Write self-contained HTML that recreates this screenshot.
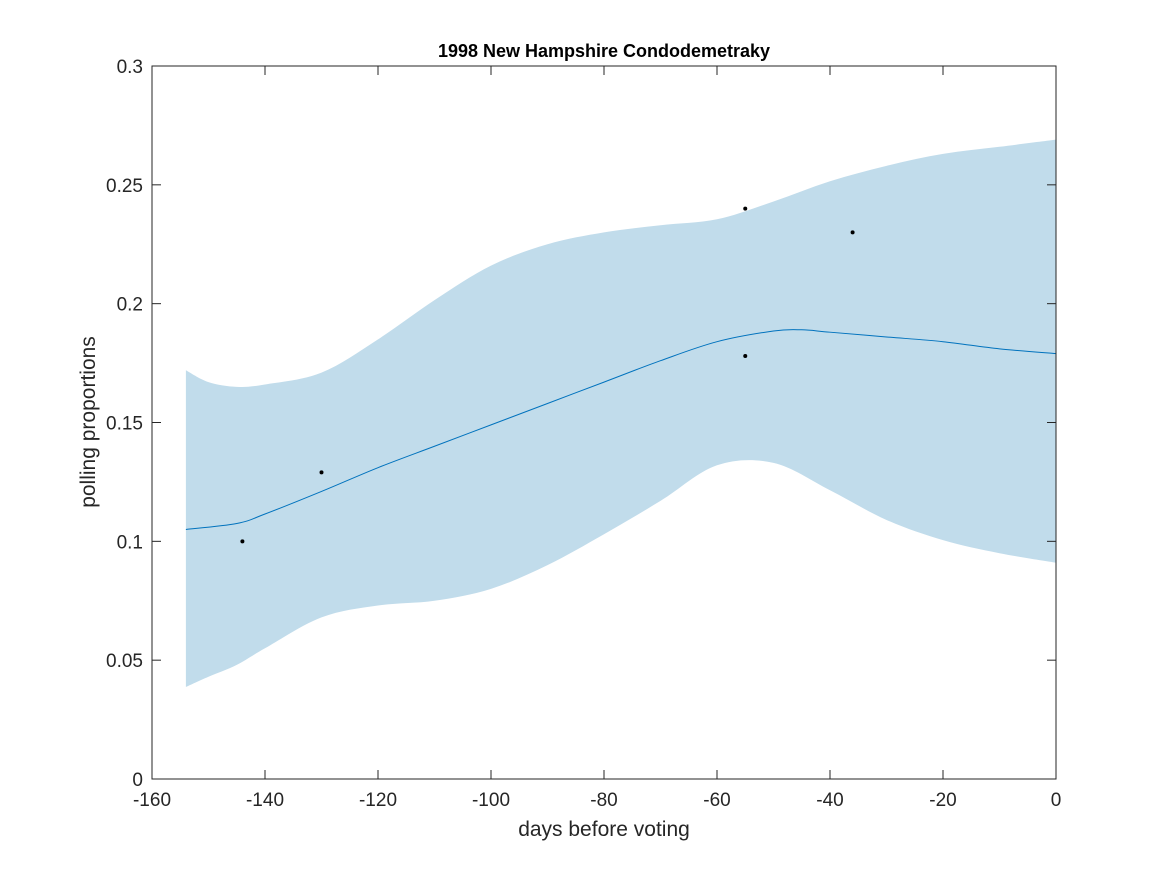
<!DOCTYPE html>
<html><head><meta charset="utf-8"><style>
body{margin:0;background:#fff;}
svg text{font-family:"Liberation Sans",sans-serif;fill:#262626;}
</style></head><body>
<svg id="chart" width="1167" height="875" xmlns="http://www.w3.org/2000/svg">
<text x="604" y="57" text-anchor="middle" font-size="18" font-weight="bold" style="fill:#000">1998 New Hampshire Condodemetraky</text>
<text x="604" y="836" text-anchor="middle" font-size="21">days before voting</text>
<text transform="translate(95,422) rotate(-90)" text-anchor="middle" font-size="21">polling proportions</text>
<g id="plot"></g>
</svg>
<script>
const bandX=[-154,-150,-145,-140,-130,-120,-110,-100,-90,-80,-70,-60,-50,-40,-30,-20,-10,0];
const upper=[0.172,0.167,0.165,0.166,0.171,0.185,0.2015,0.216,0.225,0.230,0.233,0.2355,0.243,0.2515,0.258,0.263,0.266,0.269];
const lower=[0.0387,0.043,0.048,0.055,0.068,0.073,0.075,0.080,0.090,0.103,0.117,0.132,0.133,0.1215,0.109,0.1005,0.095,0.091];
const meanX=[-154,-145,-140,-130,-120,-110,-100,-90,-80,-70,-60,-50,-45,-40,-30,-20,-10,0];
const meanY=[0.105,0.1075,0.1115,0.121,0.131,0.140,0.149,0.158,0.167,0.176,0.184,0.1885,0.189,0.188,0.186,0.184,0.181,0.179];
const pollX=[-144,-130,-55,-55,-36];
const pollY=[0.100,0.129,0.240,0.178,0.230];
const xTicks=[-160,-140,-120,-100,-80,-60,-40,-20,0];
const yTicks=[0,0.05,0.1,0.15,0.2,0.25,0.3];
const yTickLabels=["0","0.05","0.1","0.15","0.2","0.25","0.3"];

const L=152,R=1056,T=66,B=779;
const sx=v=>L+(v+160)/160*(R-L);
const sy=v=>B-v/0.3*(B-T);
const NS="http://www.w3.org/2000/svg";
const g=document.getElementById('plot');
function mk(t,a){const e=document.createElementNS(NS,t);for(const k in a)e.setAttribute(k,a[k]);g.appendChild(e);return e;}
function cr(pts,move){let d=move?`M${pts[0][0]},${pts[0][1]}`:`L${pts[0][0]},${pts[0][1]}`;
 for(let i=0;i<pts.length-1;i++){const p0=pts[i-1]||pts[i],p1=pts[i],p2=pts[i+1],p3=pts[i+2]||p2;
  d+=`C${p1[0]+(p2[0]-p0[0])/6},${p1[1]+(p2[1]-p0[1])/6} ${p2[0]-(p3[0]-p1[0])/6},${p2[1]-(p3[1]-p1[1])/6} ${p2[0]},${p2[1]}`;}
 return d;}
const up=bandX.map((x,i)=>[sx(x),sy(upper[i])]);
const lo=bandX.map((x,i)=>[sx(x),sy(lower[i])]).reverse();
const band=mk('path',{d:cr(up,true)+cr(lo,false)+'Z',fill:'#c1dceb'});


const ml=mk('path',{d:cr(meanX.map((x,i)=>[sx(x),sy(meanY[i])]),true),fill:'none',stroke:'#0072bd','stroke-width':1});


pollX.forEach((x,i)=>{const c=mk('circle',{cx:sx(x),cy:sy(pollY[i]),r:2,fill:'#000'});
 
 });
const box=mk('rect',{x:L,y:T,width:R-L,height:B-T,fill:'none',stroke:'#262626','stroke-width':1});


xTicks.forEach(v=>{const x=sx(v);
 mk('line',{x1:x,x2:x,y1:B,y2:B-9,stroke:'#262626'});mk('line',{x1:x,x2:x,y1:T,y2:T+9,stroke:'#262626'});
 const t=mk('text',{x:x,y:B+27,'text-anchor':'middle','font-size':19});t.textContent=v;
 
 });
yTicks.forEach((v,i)=>{const y=sy(v);
 mk('line',{x1:L,x2:L+9,y1:y,y2:y,stroke:'#262626'});mk('line',{x1:R,x2:R-9,y1:y,y2:y,stroke:'#262626'});
 const t=mk('text',{x:L-9,y:y+7,'text-anchor':'end','font-size':19});t.textContent=yTickLabels[i];
 
 });
</script>
</body></html>
